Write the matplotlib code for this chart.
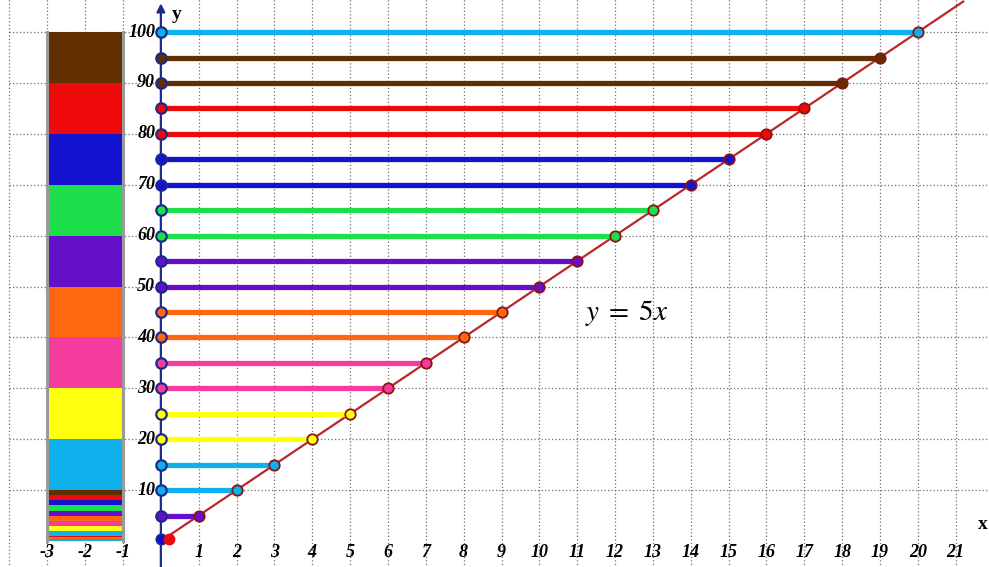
import matplotlib
matplotlib.use("Agg")
import matplotlib.pyplot as plt
from matplotlib.patches import Rectangle

plt.rcParams['mathtext.fontset'] = 'stix'

# ---- data ----
levels = [5, 10, 15, 20, 25, 30, 35, 40, 45, 50, 55, 60, 65, 70, 75, 80, 85, 90, 95, 100]
x_ends = [1, 2, 3, 4, 5, 6, 7, 8, 9, 10, 11, 12, 13, 14, 15, 16, 17, 18, 19, 20]
palette = ['#10b0ec', '#ffff10', '#f43c9c', '#ff6810', '#6410c8',
           '#1ede4c', '#1414d0', '#ee0a0a', '#623000']
level_colors = ['#6410c8',
                '#10b0ec', '#10b0ec', '#ffff10', '#ffff10', '#f43c9c', '#f43c9c',
                '#ff6810', '#ff6810', '#6410c8', '#6410c8', '#1ede4c', '#1ede4c',
                '#1414d0', '#1414d0', '#ee0a0a', '#ee0a0a', '#623000', '#623000',
                '#10b0ec']
# stacked bar: bottoms / heights of blocks (three scales)
bar_bottoms_big = [10, 20, 30, 40, 50, 60, 70, 80, 90]
bar_bottoms_mid = [1, 2, 3, 4, 5, 6, 7, 8, 9]
bar_bottoms_small = [0.1, 0.2, 0.3, 0.4, 0.5, 0.6, 0.7, 0.8, 0.9]
bar_heights = [10, 1, 0.1]
x_ticks = [-3, -2, -1, 1, 2, 3, 4, 5, 6, 7, 8, 9, 10, 11, 12, 13, 14, 15, 16, 17, 18, 19, 20, 21]
y_ticks = [10, 20, 30, 40, 50, 60, 70, 80, 90, 100]
grid_x = [-4, -3, -2, -1, 1, 2, 3, 4, 5, 6, 7, 8, 9, 10, 11, 12, 13, 14, 15, 16, 17, 18, 19, 20, 21]
grid_y = [10, 20, 30, 40, 50, 60, 70, 80, 90, 100]
slope_line_x = [0, 21.2]
slope = 5

NAVY = '#1c2a8c'
LINE_RED = '#b8272a'
MARK_EDGE = '#8a1414'

fig = plt.figure(figsize=(9.89, 5.67), dpi=100)
ax = fig.add_axes([0, 0, 1, 1])
ax.set_xlim(-4.25, 21.88)
ax.set_ylim(-5.1, 106.3)
ax.axis('off')

# grid
for gx in grid_x:
    ax.plot([gx, gx], [-6, 110], ls=(0, (1, 1.8)), color='#7a6a6a', lw=0.9, zorder=1)
for gy in grid_y:
    ax.plot([-4, 22], [gy, gy], ls=(0, (1, 1.8)), color='#7a6a6a', lw=0.9, zorder=1)

# stacked bar
for bottoms, h in zip([bar_bottoms_big, bar_bottoms_mid, bar_bottoms_small], bar_heights):
    for b, c in zip(bottoms, palette):
        ax.add_patch(Rectangle((-3, b), 2, h, facecolor=c, edgecolor='none', zorder=2))
for bx in [-3, -1]:
    ax.plot([bx, bx], [0, 100], color='#9a9a9a', lw=2.2, zorder=3)

# axes
ax.annotate('', xy=(21.9, 0), xytext=(-4.05, 0),
            arrowprops=dict(arrowstyle='-|>', color=NAVY, lw=1.6, mutation_scale=12), zorder=4)
ax.annotate('', xy=(0, 106.2), xytext=(0, -6),
            arrowprops=dict(arrowstyle='-|>', color=NAVY, lw=1.6, mutation_scale=12), zorder=4)
ax.text(21.85, 3.2, 'x', fontfamily='Liberation Serif', fontweight='bold', fontsize=14,
        ha='right', va='center', color='black', zorder=6)
ax.text(0.3, 103.5, 'y', fontfamily='Liberation Serif', fontweight='bold', fontsize=14,
        ha='left', va='center', color='black', zorder=6)

# tick labels
for t in x_ticks:
    ax.text(t, -2.3, str(t), fontfamily='Liberation Serif', fontweight='bold', fontstyle='italic',
            fontsize=13, ha='center', va='center', color='black', zorder=6)
for t in y_ticks:
    ax.text(-0.15, t, str(t), fontfamily='Liberation Serif', fontweight='bold', fontstyle='italic',
            fontsize=13, ha='right', va='center', color='black', zorder=6)

# slope line y = 5x
ax.plot(slope_line_x, [slope * v for v in slope_line_x], color=LINE_RED, lw=1.6, zorder=5)

# horizontal lines with end markers
for y, xe, c in zip(levels, x_ends, level_colors):
    ax.plot([0, xe], [y, y], color=c, lw=3.8, solid_capstyle='butt', zorder=6)
    ax.plot([0], [y], 'o', ms=7.5, mfc=c, mec=NAVY, mew=1.6, zorder=7)
    ax.plot([xe], [y], 'o', ms=7.5, mfc=c, mec=MARK_EDGE, mew=1.3, zorder=7)

# origin markers
ax.plot([0], [0.4], 'o', ms=7.5, mfc='#1010d0', mec=NAVY, mew=1.2, zorder=8)
ax.plot([0.22], [0.4], 'o', ms=7.5, mfc='#ee0a0a', mec='#ee0a0a', mew=1, zorder=8)

ax.text(12.3, 44.8, r'$y\;=\;5x$', fontsize=21, ha='center', va='center', color='black', zorder=6)

fig.savefig('out.png', dpi=100)
